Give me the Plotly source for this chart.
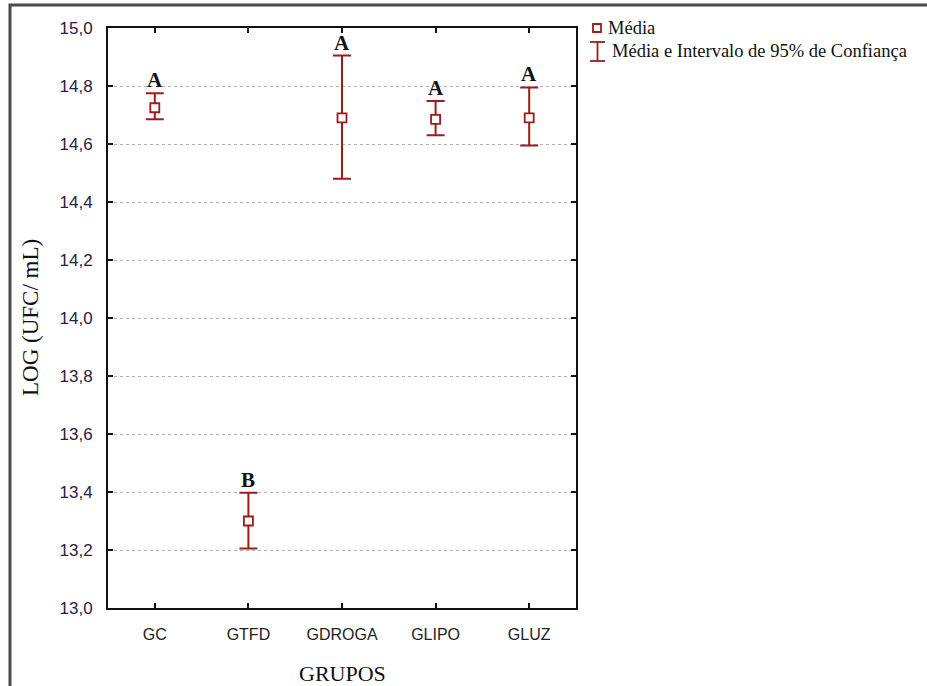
import plotly.graph_objects as go

grupos = ["GC", "GTFD", "GDROGA", "GLIPO", "GLUZ"]
media = [14.725, 13.30, 14.69, 14.685, 14.69]
ic_inf = [14.685, 13.205, 14.48, 14.63, 14.595]
ic_sup = [14.775, 13.397, 14.905, 14.748, 14.795]
letras = ["A", "B", "A", "A", "A"]
y_ticks = [13.0, 13.2, 13.4, 13.6, 13.8, 14.0, 14.2, 14.4, 14.6, 14.8, 15.0]

RED = "#9e1b1b"
err_plus = [s - m for s, m in zip(ic_sup, media)]
err_minus = [m - i for m, i in zip(media, ic_inf)]
xidx = list(range(len(grupos)))

fig = go.Figure()
fig.add_trace(go.Scatter(
    x=xidx, y=media, mode="markers", showlegend=False,
    marker=dict(symbol="square", size=9, color="white", line=dict(color=RED, width=1.8)),
    error_y=dict(type="data", symmetric=False, array=err_plus, arrayminus=err_minus,
                 color=RED, thickness=2, width=9),
))

PX0, PW, PY0, PH = 108, 468, 608, 580
def px(xp):
    return (xp - PX0) / PW
def py(yp):
    return (PY0 - yp) / PH

annotations = []
for i, (u, l) in enumerate(zip(ic_sup, letras)):
    annotations.append(dict(x=i, y=u, xref="x", yref="y", text="<b>%s</b>" % l,
                            showarrow=False, yanchor="bottom", yshift=-1,
                            font=dict(family="Liberation Serif", size=21, color="#111")))

# axis titles
annotations.append(dict(x=0.5, y=0, xref="paper", yref="paper", text="GRUPOS",
                        showarrow=False, yanchor="middle", yshift=-65,
                        font=dict(family="Liberation Serif", size=22, color="#111")))
annotations.append(dict(x=0, y=0.5, xref="paper", yref="paper", text="LOG (UFC/ mL)",
                        showarrow=False, textangle=-90, xanchor="center", xshift=-78,
                        font=dict(family="Liberation Serif", size=23, color="#111")))

# legend (manual)
annotations.append(dict(x=px(606), y=py(28), xref="paper", yref="paper", text="Média",
                        showarrow=False, xanchor="left", yanchor="middle",
                        font=dict(family="Liberation Serif", size=18.5, color="#111")))
annotations.append(dict(x=px(610), y=py(51), xref="paper", yref="paper",
                        text="Média e Intervalo de 95% de Confiança",
                        showarrow=False, xanchor="left", yanchor="middle",
                        font=dict(family="Liberation Serif", size=18.5, color="#111")))

shapes = [
    # outer frame
    dict(type="rect", xref="paper", yref="paper", x0=px(10), y0=py(720), x1=px(960), y1=py(5),
         line=dict(color="#4a4a4a", width=3), fillcolor="rgba(0,0,0,0)", layer="below"),
    # legend marker square
    dict(type="rect", xref="paper", yref="paper", x0=px(593), y0=py(32), x1=px(601), y1=py(24),
         line=dict(color=RED, width=1.8), fillcolor="white"),
    # legend I-beam
    dict(type="line", xref="paper", yref="paper", x0=px(597.5), y0=py(42), x1=px(597.5), y1=py(61),
         line=dict(color=RED, width=1.8)),
    dict(type="line", xref="paper", yref="paper", x0=px(590), y0=py(42), x1=px(605), y1=py(42),
         line=dict(color=RED, width=1.8)),
    dict(type="line", xref="paper", yref="paper", x0=px(590), y0=py(61), x1=px(605), y1=py(61),
         line=dict(color=RED, width=1.8)),
]

fig.update_layout(
    width=927, height=686,
    margin=dict(l=108, r=927 - 576, t=28, b=686 - 608),
    paper_bgcolor="white", plot_bgcolor="white",
    separators=", ",
    showlegend=False,
    annotations=annotations,
    shapes=shapes,
    xaxis=dict(
        range=[-0.5, 4.5], tickvals=xidx, ticktext=grupos,
        showgrid=False, zeroline=False,
        showline=True, linecolor="#111", linewidth=2, mirror="ticks",
        ticks="inside", ticklen=5, tickcolor="#111", tickwidth=1.5,
        tickfont=dict(family="Liberation Sans", size=16, color="#222"),
        ticklabelstandoff=11,
    ),
    yaxis=dict(
        range=[13.0, 15.0], tickvals=y_ticks, tickformat=".1f",
        showgrid=True, gridcolor="#b0b0b0", griddash="dot", gridwidth=1,
        zeroline=False,
        showline=True, linecolor="#111", linewidth=2, mirror="ticks",
        ticks="inside", ticklen=5, tickcolor="#111", tickwidth=1.5,
        tickfont=dict(family="Liberation Sans", size=17, color="#2a2040"),
        ticklabelstandoff=10,
    ),
)

fig.write_html("out.html")
